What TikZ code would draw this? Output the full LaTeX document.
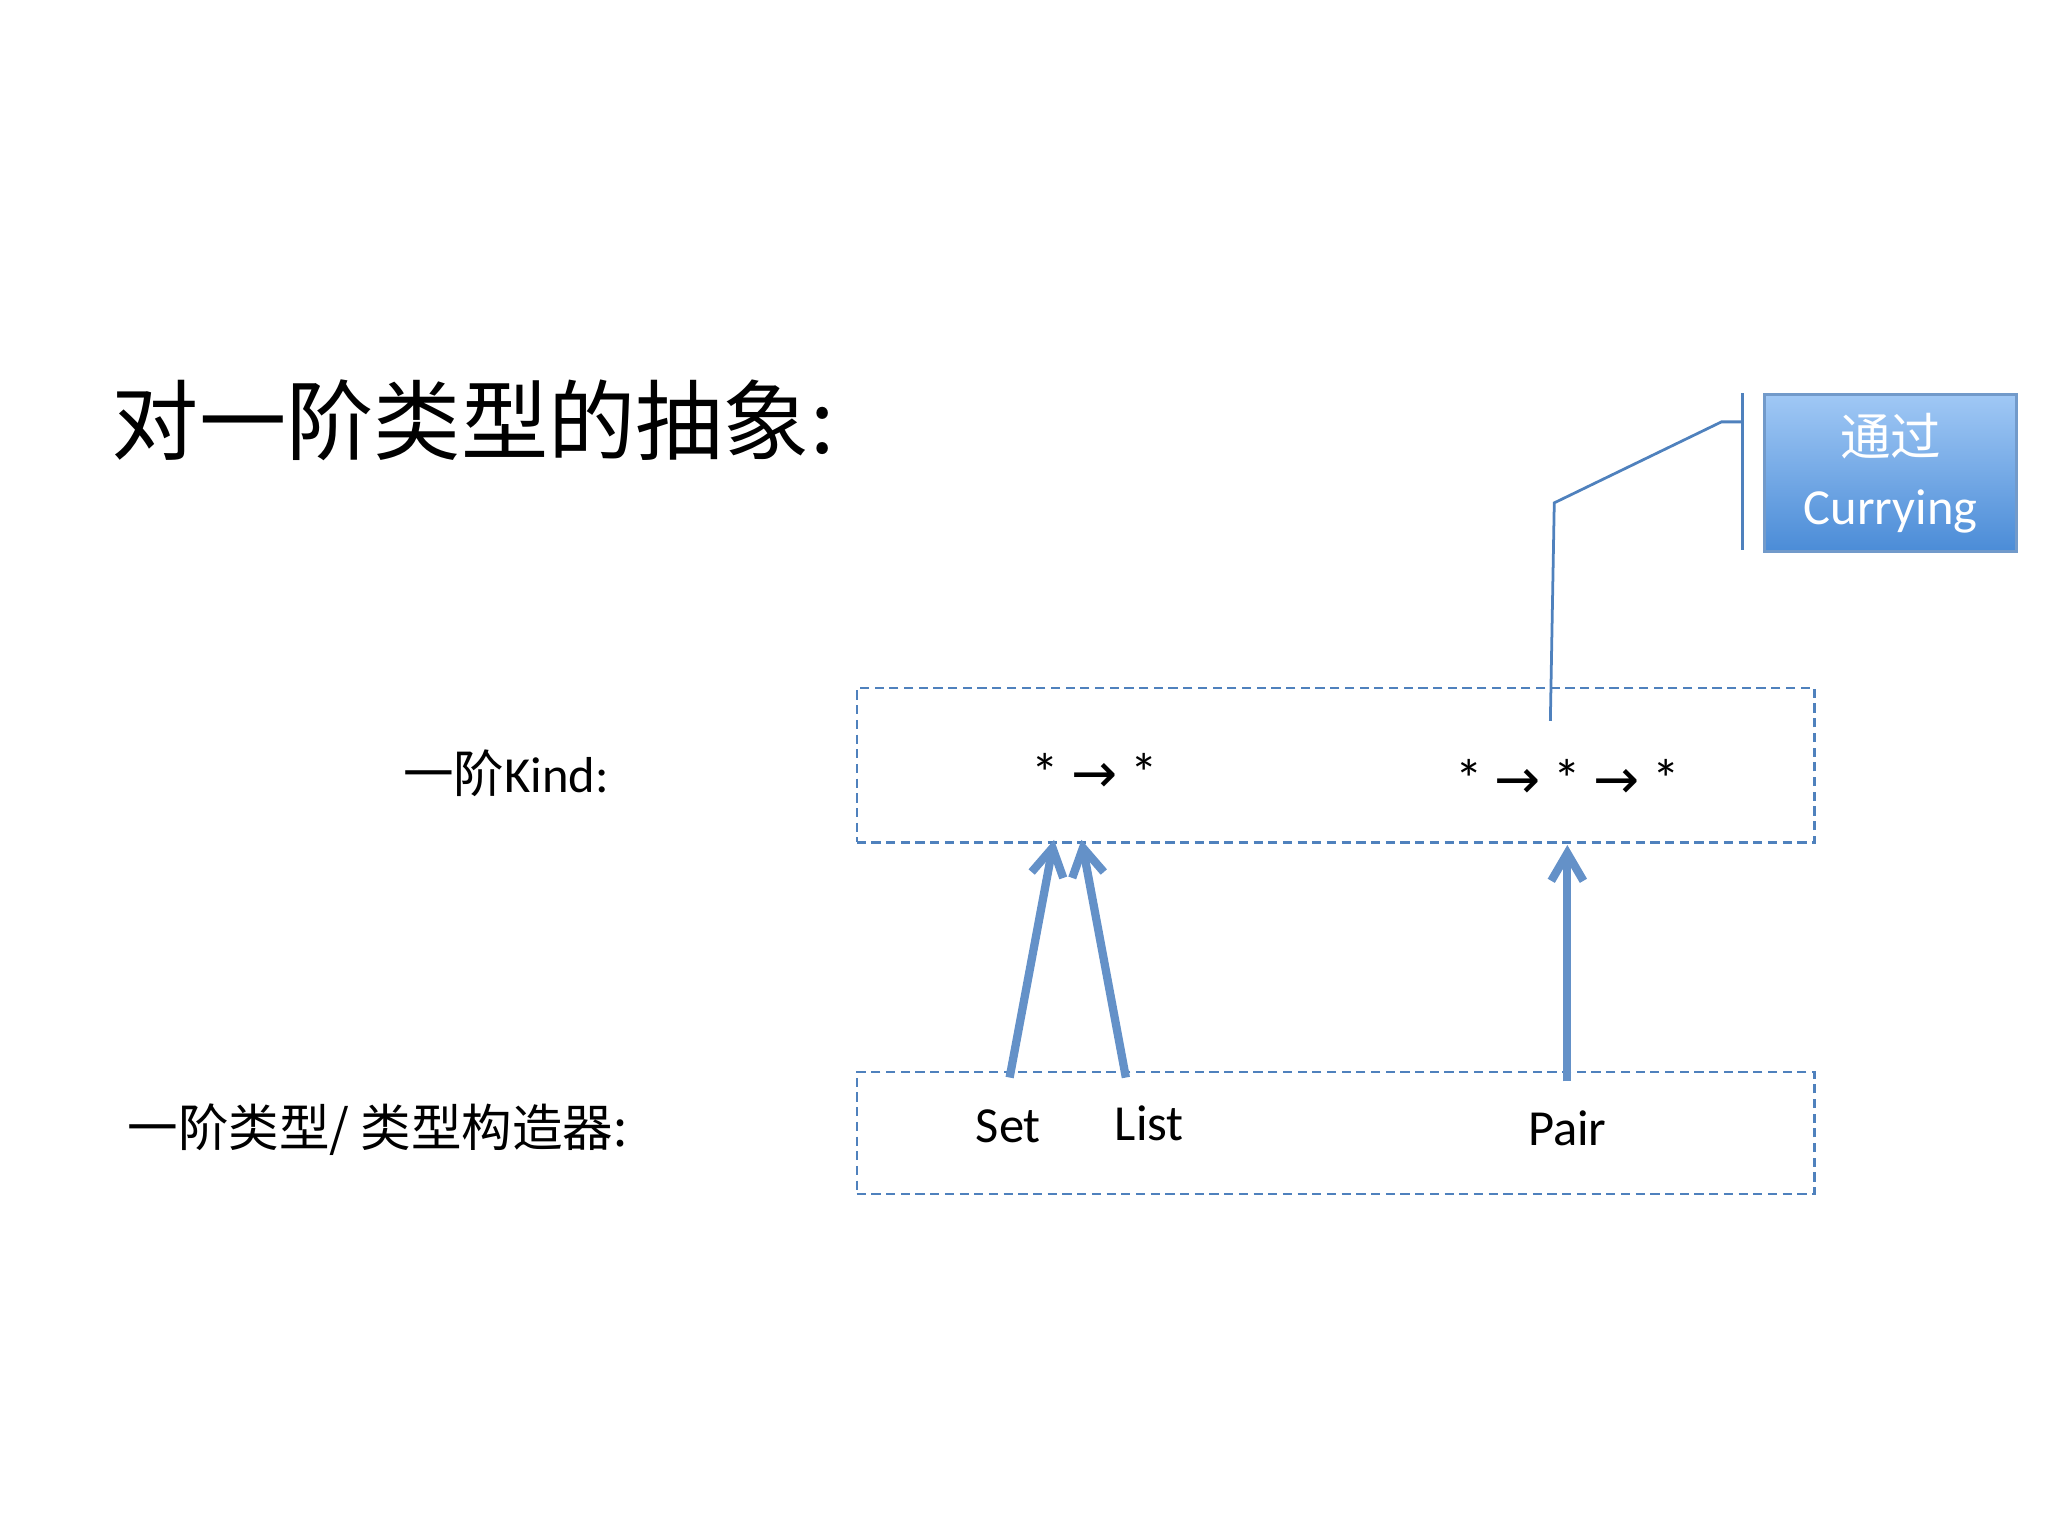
\documentclass[tikz,border=0pt]{standalone}
\usepackage{fontspec}
\setmainfont{Carlito}
\newfontfamily\cjk{Noto Sans CJK SC}
\newfontfamily\sym{DejaVu Sans}
\usetikzlibrary{arrows.meta}
\definecolor{ln}{RGB}{79,129,189}
\definecolor{ar}{RGB}{100,145,200}
\definecolor{ctop}{RGB}{160,200,245}
\definecolor{cbot}{RGB}{75,140,215}
\tikzset{
  dbox/.style={draw=ln, dash pattern=on 2pt off 1.2pt, line width=0.5pt, inner sep=0pt},
  up/.style={ar, line width=1.8pt, -{Straight Barb[length=6pt,width=7pt]}},
  lbl/.style={font=\fontsize{11}{13}\selectfont, inner sep=0pt},
}
\newcommand{\ra}{{\sym\fontsize{12}{12}\selectfont →}}
\begin{document}
\begin{tikzpicture}[x=0.01cm,y=-0.01cm]
\useasboundingbox (0,0) rectangle (1568,1176);
\node[anchor=west, inner sep=0pt, font=\cjk\fontsize{19}{22}\selectfont] (title) at (85,322) {对一阶类型的抽象:};
\node[anchor=west, lbl] (k1) at (308,592) {{\cjk 一阶}Kind:};
\node[anchor=west, lbl] (k2) at (97,865) {\cjk 一阶类型/ 类型构造器:};
\node[dbox, minimum width=7.33cm, minimum height=1.18cm, anchor=north west] (topbox) at (655,526) {};
\node[dbox, minimum width=7.33cm, minimum height=0.93cm, anchor=north west] (botbox) at (655,820) {};
\node[lbl, font=\fontsize{12}{13}\selectfont] (ka) at (838,592) {* \ra{} *};
\node[lbl, font=\fontsize{12}{13}\selectfont] (kb) at (1200,596) {* \ra{} * \ra{} *};
\node[lbl] (set) at (772,862) {Set};
\node[lbl] (list) at (880,860) {List};
\node[lbl] (pair) at (1200,864) {Pair};
\coordinate (s0) at (773,825); \coordinate (s1) at (807,643);
\coordinate (l0) at (862,825); \coordinate (l1) at (828,643);
\coordinate (p0) at (1200,828); \coordinate (p1) at (1200,647);
\draw[up] (s0) -- (s1);
\draw[up] (l0) -- (l1);
\draw[up] (p0) -- (p1);
\node[anchor=north west, minimum width=1.93cm, minimum height=1.2cm, inner sep=0pt,
  top color=ctop, bottom color=cbot, draw=ln!80!white, line width=0.6pt,
  text=white, align=center, font=\fontsize{11}{15}\selectfont] (call) at (1350,301)
  {{\cjk 通过}\\Currying};
\coordinate (c0) at (1187,552); \coordinate (c1) at (1190,385);
\coordinate (c2) at (1318,323); \coordinate (c3) at (1334,323);
\draw[ln, line width=0.6pt] (c0) -- (c1) -- (c2) -- (c3);
\coordinate (b0) at (1334,301); \coordinate (b1) at (1334,421);
\draw[ln, line width=0.6pt] (b0) -- (b1);
\end{tikzpicture}
\end{document}
